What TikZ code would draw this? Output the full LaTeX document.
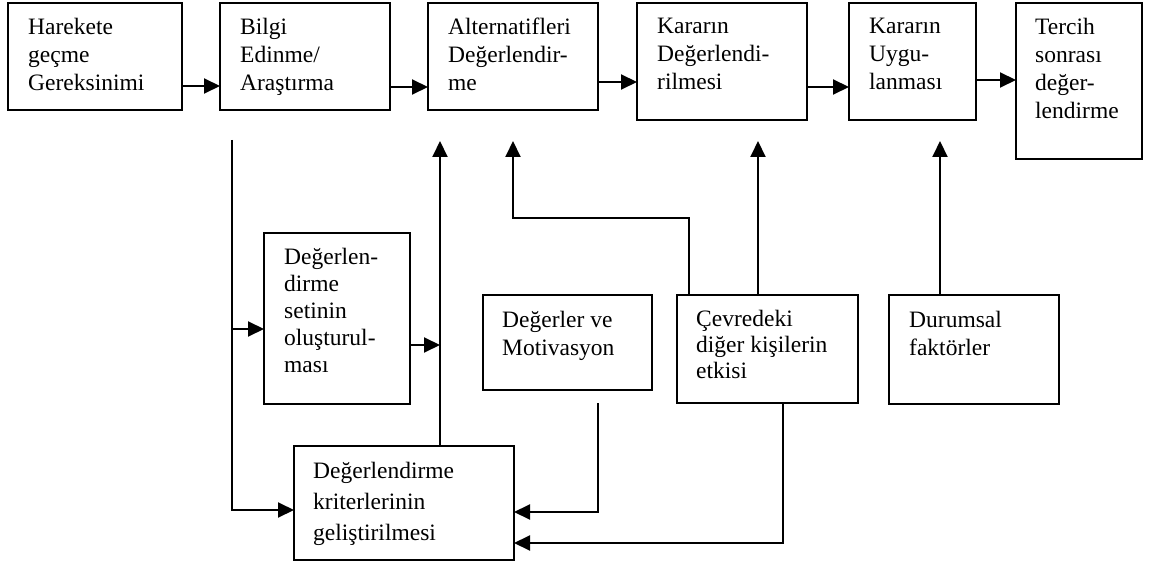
\documentclass[tikz,border=0pt]{standalone}
\usepackage{fontspec}
\setmainfont{Liberation Serif}
\usepackage{tikz}
\usetikzlibrary{arrows.meta}

\begin{document}
\begin{tikzpicture}[x=1pt,y=-1pt,
        kutu/.style={draw,line width=1.6pt,anchor=north west,outer sep=0pt,inner sep=0pt},
        yazi/.style={anchor=north west,align=left,inner xsep=20pt,inner ysep=15pt,
                font=\fontsize{23.5}{28}\selectfont},
        ok/.style={line width=2pt,-{Triangle[length=16pt,width=15pt]}}]
        \useasboundingbox[fill=white] (0,0) rectangle (1149,567);
        % ust sira
        \node[kutu,minimum width=174pt,minimum height=107pt,
                label={[yazi]north west:{Harekete\\geçme\\Gereksinimi}}] (b1) at (8,3) {};
        \node[kutu,minimum width=170pt,minimum height=107pt,
                label={[yazi]north west:{Bilgi\\Edinme/\\Araştırma}}] (b2) at (220,3) {};
        \node[kutu,minimum width=170pt,minimum height=107pt,
                label={[yazi]north west:{Alternatifleri\\Değerlendir-\\me}}] (b3) at (428,3) {};
        \node[kutu,minimum width=170pt,minimum height=117pt,
                label={[yazi]north west:{Kararın\\Değerlendi-\\rilmesi}}] (b4) at (637,3) {};
        \node[kutu,minimum width=127pt,minimum height=117pt,
                label={[yazi]north west:{Kararın\\Uygu-\\lanması}}] (b5) at (849,3) {};
        \node[kutu,minimum width=126pt,minimum height=156pt,
                label={[yazi,inner xsep=19pt]north west:{Tercih\\sonrası\\değer-\\lendirme}}] (b6) at (1016,3) {};
        % alt kutular
        \node[kutu,minimum width=146pt,minimum height=171pt,
                label={[yazi,font=\fontsize{23.5}{27}\selectfont]north west:{Değerlen-\\dirme\\setinin\\oluşturul-\\ması}}] (b7) at (264,233) {};
        \node[kutu,minimum width=220pt,minimum height=114pt,
                label={[yazi,inner xsep=19pt,inner ysep=16pt,font=\fontsize{23.5}{31}\selectfont]north west:{Değerlendirme\\kriterlerinin\\geliştirilmesi}}] (b8) at (294,446) {};
        \node[kutu,minimum width=169pt,minimum height=95pt,
                label={[yazi,inner xsep=19pt,inner ysep=16pt]north west:{Değerler ve\\Motivasyon}}] (b9) at (483,295) {};
        \node[kutu,minimum width=181pt,minimum height=108pt,
                label={[yazi,inner xsep=19pt,font=\fontsize{23.5}{26}\selectfont]north west:{Çevredeki\\diğer kişilerin\\etkisi}}] (b10) at (677,295) {};
        \node[kutu,minimum width=170pt,minimum height=109pt,
                label={[yazi,inner ysep=16pt]north west:{Durumsal\\faktörler}}] (b11) at (889,295) {};

        \draw[ok] (b1.east |- 0,86) -- (b2.west |- 0,86);
        \draw[ok] (b2.east |- 0,87) -- (b3.west |- 0,87);
        \draw[ok] (b3.east |- 0,82) -- (b4.west |- 0,82);
        \draw[ok] (b4.east |- 0,87) -- (b5.west |- 0,87);
        \draw[ok] (b5.east |- 0,80) -- (b6.west |- 0,80);

        \draw[ok,shorten <=30pt] ([xshift=12pt]b2.south west) |- (b8.west |- 0,510);
        \coordinate (ayrim) at (232,329);
        \draw[ok] (ayrim) -- (b7.west |- 0,329);
        \draw[ok] (b7.east |- 0,345) -- ++(30,0);
        \draw[ok,shorten >=31pt] ([xshift=146pt]b8.north west) -- ([xshift=12pt]b3.south west);
        \draw[ok,shorten >=31pt] ([xshift=12pt]b10.north west) -- ++(0,-77) -| (b3.south);
        \draw[ok,shorten >=21pt] ([xshift=81pt]b10.north west) -- ([xshift=121pt]b4.south west);
        \draw[ok,shorten >=21pt] ([xshift=51pt]b11.north west) -- ([xshift=91pt]b5.south west);
        \draw[ok,shorten <=13pt] ([xshift=115pt]b9.south west) |- (b8.east |- 0,512);
        \draw[ok] ([xshift=106pt]b10.south west) |- (b8.east |- 0,543);
\end{tikzpicture}
\end{document}
